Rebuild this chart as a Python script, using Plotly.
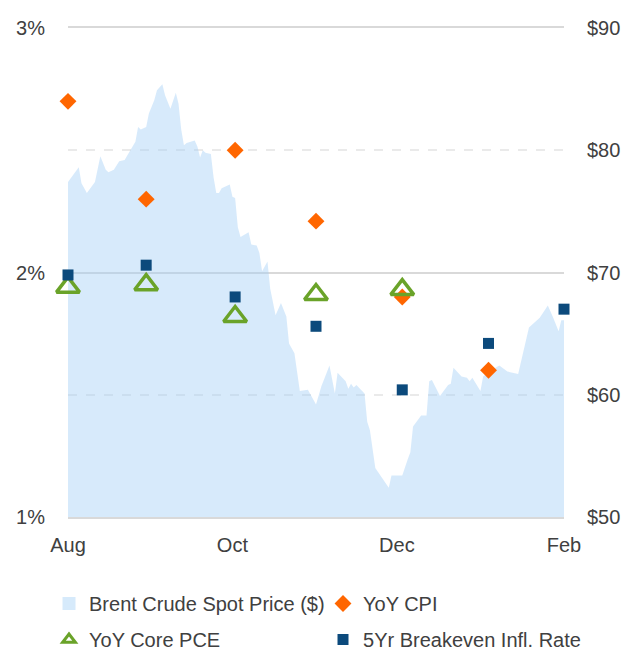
import plotly.graph_objects as go

# ---------------- data ----------------
brent_dates = [
    "2018-08-01", "2018-08-05", "2018-08-06", "2018-08-08", "2018-08-11", "2018-08-13",
    "2018-08-15", "2018-08-16", "2018-08-18", "2018-08-20", "2018-08-22", "2018-08-24",
    "2018-08-26", "2018-08-27", "2018-08-28", "2018-08-30", "2018-08-31", "2018-09-02",
    "2018-09-03", "2018-09-05", "2018-09-06", "2018-09-08", "2018-09-10", "2018-09-11",
    "2018-09-12", "2018-09-13", "2018-09-14", "2018-09-17", "2018-09-18", "2018-09-19",
    "2018-09-20", "2018-09-21", "2018-09-23", "2018-09-24", "2018-09-25", "2018-09-26",
    "2018-09-27", "2018-09-30", "2018-10-01", "2018-10-02", "2018-10-03", "2018-10-04",
    "2018-10-07", "2018-10-08", "2018-10-10", "2018-10-11", "2018-10-12", "2018-10-14",
    "2018-10-15", "2018-10-17", "2018-10-19", "2018-10-21", "2018-10-22", "2018-10-24",
    "2018-10-26", "2018-10-29", "2018-11-01", "2018-11-03", "2018-11-06", "2018-11-08",
    "2018-11-09", "2018-11-12", "2018-11-13", "2018-11-14", "2018-11-15", "2018-11-16",
    "2018-11-19", "2018-11-20", "2018-11-21", "2018-11-23", "2018-11-26", "2018-11-28",
    "2018-11-29", "2018-12-03", "2018-12-05", "2018-12-06", "2018-12-07", "2018-12-10",
    "2018-12-12", "2018-12-13", "2018-12-14", "2018-12-17", "2018-12-20", "2018-12-21",
    "2018-12-22", "2018-12-25", "2018-12-27", "2018-12-28", "2018-12-29", "2019-01-01",
    "2019-01-02", "2019-01-05", "2019-01-08", "2019-01-11", "2019-01-15", "2019-01-17",
    "2019-01-19", "2019-01-23", "2019-01-26", "2019-01-28", "2019-01-30", "2019-01-31",
    "2019-02-01",
]
brent_price = [
    77.4, 78.6, 77.3, 76.5, 77.4, 79.5,
    78.4, 78.2, 78.4, 79.1, 79.2, 80.0,
    80.7, 81.9, 81.7, 81.9, 83.0, 84.1,
    84.9, 85.4, 84.5, 83.4, 84.7, 83.8,
    81.7, 80.4, 80.6, 80.8, 80.3, 79.4,
    80.0, 79.8, 79.7, 77.8, 76.5, 76.5,
    76.9, 77.2, 76.2, 76.1, 73.7, 72.9,
    73.3, 72.3, 72.2, 71.6, 70.1, 70.9,
    68.7, 66.5, 67.5, 66.4, 64.2, 63.4,
    60.3, 60.4, 59.2, 60.7, 62.4, 60.1,
    61.8, 61.1, 60.5, 60.9, 60.6, 60.8,
    60.1, 57.8, 57.1, 54.0, 53.0, 52.4,
    53.4, 53.4, 54.7, 55.3, 57.4, 58.3,
    58.3, 61.1, 61.2, 59.9, 60.8, 60.9,
    62.2, 61.5, 61.4, 61.1, 61.4, 60.3,
    61.5, 62.0, 62.4, 61.9, 61.7, 63.7,
    65.5, 66.3, 67.3, 66.3, 65.2, 66.1,
    66.1,
]

cpi_dates = ["2018-08-01", "2018-08-30", "2018-10-02", "2018-11-01", "2018-12-03", "2019-01-04"]
cpi_values = [2.70, 2.30, 2.50, 2.21, 1.90, 1.60]

pce_dates = ["2018-08-01", "2018-08-30", "2018-10-02", "2018-11-01", "2018-12-03"]
pce_values = [1.94, 1.95, 1.82, 1.91, 1.93]

be_dates = ["2018-08-01", "2018-08-30", "2018-10-02", "2018-11-01", "2018-12-03", "2019-01-04", "2019-02-01"]
be_values = [1.99, 2.03, 1.90, 1.78, 1.52, 1.71, 1.85]

x_tick_dates = ["2018-08-01", "2018-10-01", "2018-12-01", "2019-02-01"]
x_tick_text = ["Aug", "Oct", "Dec", "Feb"]

pct_tick_vals = [1, 2, 3]
pct_tick_text = ["1%", "2%", "3%"]
usd_tick_vals = [50, 60, 70, 80, 90]
usd_tick_text = ["$50", "$60", "$70", "$80", "$90"]

# ---------------- styles ----------------
FONT = "Liberation Sans, Arial, sans-serif"
TXT = "#404040"
AREA = "rgba(160, 205, 245, 0.42)"
AREA_SOLID = "#D6EAFB"
ORANGE = "#FF6600"
GREEN = "#6AA329"
NAVY = "#0C4A7C"
GRID = "#D9D9D9"

fig = go.Figure()

# Brent area on the primary (dollar, right-side) axis so markers on the overlay sit above it
fig.add_trace(go.Scatter(
    x=brent_dates, y=brent_price, yaxis="y", mode="lines",
    line=dict(width=0, color=AREA_SOLID), fill="tozeroy", fillcolor=AREA,
    showlegend=False, hoverinfo="skip",
))
# legend-only swatches
fig.add_trace(go.Scatter(
    x=[None], y=[None], yaxis="y2", mode="markers", name="Brent Crude Spot Price ($)",
    marker=dict(symbol="square", size=13, color=AREA_SOLID), legend="legend",
))
fig.add_trace(go.Scatter(
    x=cpi_dates, y=cpi_values, yaxis="y2", mode="markers", name="YoY CPI",
    marker=dict(symbol="diamond", size=13, color=ORANGE), cliponaxis=False, legend="legend",
))
fig.add_trace(go.Scatter(
    x=[None], y=[None], yaxis="y2", mode="markers", name="YoY Core PCE",
    marker=dict(symbol="triangle-up-open", size=11, color=GREEN, line=dict(width=3, color=GREEN)),
    legend="legend2",
))
fig.add_trace(go.Scatter(
    x=pce_dates, y=pce_values, yaxis="y2", mode="markers", name="YoY Core PCE",
    marker=dict(symbol="triangle-up-open", size=20, color=GREEN, line=dict(width=3.5, color=GREEN)),
    cliponaxis=False, showlegend=False,
))
fig.add_trace(go.Scatter(
    x=be_dates, y=be_values, yaxis="y2", mode="markers", name="5Yr Breakeven Infl. Rate",
    marker=dict(symbol="square", size=11, color=NAVY), cliponaxis=False, legend="legend2",
))

legend_common = dict(
    orientation="h", xref="paper", yref="paper",
    x=-0.0383, xanchor="left", yanchor="top",
    entrywidth=229, entrywidthmode="pixels", traceorder="normal",
    font=dict(family=FONT, size=20, color=TXT), bgcolor="rgba(0,0,0,0)",
)

fig.update_layout(
    width=622, height=652,
    margin=dict(l=68, r=58, t=28, b=135, autoexpand=False),
    paper_bgcolor="white", plot_bgcolor="white",
    font=dict(family=FONT, size=20, color=TXT),
    xaxis=dict(
        type="date", range=["2018-08-01", "2019-02-01"],
        tickvals=x_tick_dates, ticktext=x_tick_text,
        showgrid=False, zeroline=False, ticks="",
        showline=True, mirror=True, linecolor=GRID, linewidth=2,
        ticklabelstandoff=9, automargin=False,
    ),
    yaxis=dict(
        range=[50, 90], tickvals=usd_tick_vals, ticktext=usd_tick_text,
        side="right", showgrid=False, zeroline=False,
        showline=False, ticks="", ticklabelstandoff=22, automargin=False,
    ),
    yaxis2=dict(
        range=[1, 3], tickvals=pct_tick_vals, ticktext=pct_tick_text,
        overlaying="y", side="left",
        showgrid=True, gridcolor=GRID, gridwidth=2,
        minor=dict(dtick=0.5, tick0=1, showgrid=True, griddash="dash", gridcolor="#EAEAEA", gridwidth=2),
        zeroline=False, showline=False, ticks="", ticklabelstandoff=22, automargin=False,
    ),
    legend=dict(legend_common, y=-0.137),
    legend2=dict(legend_common, y=-0.2106),
    showlegend=True,
)

fig.write_html(
    "out.html",
    config={"displayModeBar": False},
    post_script="document.body.style.margin='0px';",
)
